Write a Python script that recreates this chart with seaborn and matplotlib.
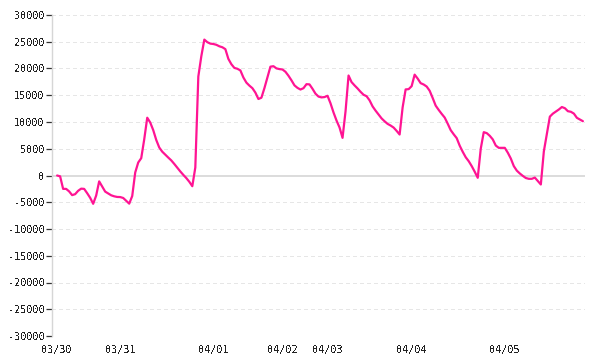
import matplotlib
matplotlib.use("Agg")
import matplotlib.pyplot as plt
import seaborn as sns
import pandas as pd
import numpy as np

# ---- data ----
values = [
    0, -150, -2500, -2500, -2970, -3670, -3490, -2860, -2460, -2500,
    -3300, -4170, -5290, -3750, -1100, -2060, -3010, -3350, -3700, -3890,
    -4010, -4030, -4200, -4730, -5260, -3840, 565, 2430, 3240, 6770,
    10800, 9900, 8470, 6640, 5230, 4450, 3890, 3350, 2820, 2160,
    1460, 760, 120, -480, -1170, -2000, 1500, 18500, 22300, 25400,
    24920, 24650, 24580, 24430, 24150, 23970, 23620, 21800, 20800, 20110,
    19950, 19640, 18320, 17360, 16800, 16320, 15490, 14300, 14540, 16330,
    18310, 20340, 20430, 20020, 19890, 19820, 19390, 18650, 17790, 16850,
    16380, 16070, 16320, 17070, 17030, 16210, 15290, 14750, 14600, 14660,
    14900, 13490, 11780, 10270, 8980, 7040, 12000, 18690, 17460, 16840,
    16270, 15640, 15090, 14820, 14050, 12920, 12120, 11380, 10670, 10130,
    9650, 9340, 8960, 8340, 7660, 12730, 16090, 16140, 16700, 18850,
    18120, 17260, 17010, 16630, 15840, 14490, 13060, 12260, 11520, 10830,
    9690, 8480, 7700, 6980, 5570, 4430, 3410, 2670, 1750, 700,
    -430, 5000, 8100, 7920, 7420, 6750, 5600, 5170, 5170, 5170,
    4270, 3180, 1760, 910, 380, -70, -470, -620, -620, -390,
    -1040, -1680, 4500, 7710, 11000, 11560, 11960, 12340, 12800, 12580,
    12020, 11910, 11570, 10780, 10470, 10150,
]
day_labels = ["03/30", "03/31", "04/01", "04/02", "04/03", "04/04", "04/05"]
day_start = [0, 21, 52, 75, 90, 118, 149]
y_ticks = [-30000, -25000, -20000, -15000, -10000, -5000, 0,
           5000, 10000, 15000, 20000, 25000, 30000]

df = pd.DataFrame({"idx": np.arange(len(values)), "value": values})

sns.set_theme(style="white", rc={"ytick.left": True, "ytick.major.size": 4.3,
                                 "ytick.major.width": 0.9})
plt.rcParams["font.family"] = ["DejaVu Sans Mono", "DejaVu Sans"]
plt.rcParams["text.antialiased"] = False

fig = plt.figure(figsize=(6, 3.6), dpi=100)
ax = fig.add_axes([52 / 600, 24 / 360, 533 / 600, 321 / 360])

# grid
for t in y_ticks:
    if t == 0:
        continue
    ax.axhline(t, color="#e6e6e6", lw=0.75, dashes=(3, 3), zorder=0,
               antialiased=False)
ax.axhline(0, color="#dcdcdc", lw=1.1, zorder=1, antialiased=False)

sns.lineplot(data=df, x="idx", y="value", ax=ax, color="#ff1493",
             lw=1.6, zorder=3)

ax.set_xlim(-1.7, len(values) - 1 + 0.7)
ax.set_ylim(-30000, 30000)
ax.set_yticks(y_ticks)
ax.set_yticklabels([str(t) for t in y_ticks])
ax.set_xticks(day_start)
ax.set_xticklabels(day_labels)
ax.set_xlabel("")
ax.set_ylabel("")

ax.tick_params(axis="y", which="major", left=True, length=4.3, width=0.9,
               color="#333333", labelsize=7.3, labelcolor="#222222", pad=1)
ax.tick_params(axis="x", length=0, labelsize=7.3, labelcolor="#222222",
               pad=6.5)

for s in ["top", "right", "bottom"]:
    ax.spines[s].set_visible(False)
ax.spines["left"].set_color("#d6d6d6")
ax.spines["left"].set_linewidth(1.0)

fig.savefig("out.png", dpi=100)
